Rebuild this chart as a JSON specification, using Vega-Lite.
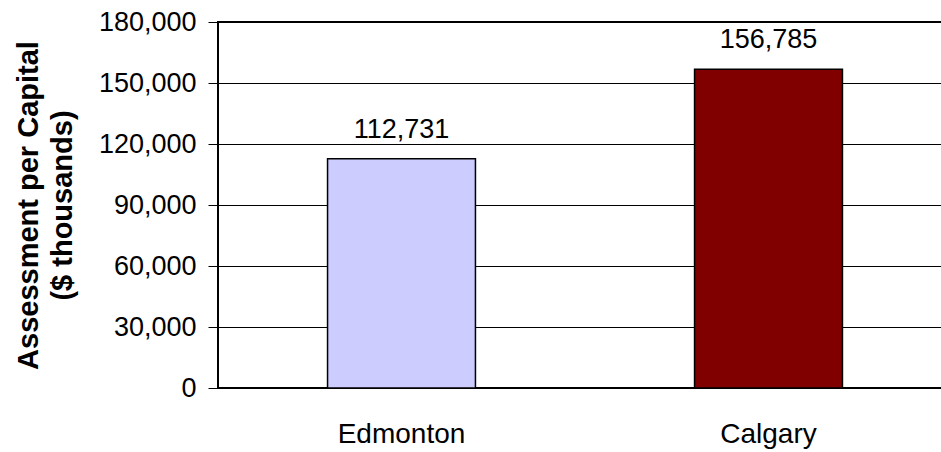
{
  "$schema": "https://vega.github.io/schema/vega-lite/v6.json",
  "autosize": {"type": "none"},
  "padding": {"left": 218, "top": 22, "right": 0, "bottom": 64},
  "width": 734,
  "height": 366,
  "background": "white",
  "config": {
    "font": "Liberation Sans",
    "view": {"stroke": "black", "strokeWidth": 2},
    "axis": {"labelFont": "Liberation Sans", "titleFont": "Liberation Sans", "labelColor": "black", "titleColor": "black"}
  },
  "data": {
    "values": [
      {"city": "Edmonton", "value": 112731},
      {"city": "Calgary", "value": 156785}
    ]
  },
  "encoding": {
    "x": {
      "field": "city",
      "type": "nominal",
      "sort": null,
      "scale": {"paddingInner": 0.597, "paddingOuter": 0.2985},
      "axis": {
        "title": null,
        "labelAngle": 0,
        "labelFontSize": 28,
        "ticks": false,
        "tickSize": 0,
        "domain": false,
        "labelBaseline": "alphabetic",
        "labelPadding": 54
      }
    },
    "y": {
      "field": "value",
      "type": "quantitative",
      "scale": {"domain": [0, 180000], "nice": false},
      "axis": {
        "values": [0, 30000, 60000, 90000, 120000, 150000, 180000],
        "format": ",.0f",
        "labelFontSize": 27,
        "labelPadding": 12,
        "tickSize": 10,
        "tickColor": "black",
        "tickWidth": 1,
        "domain": false,
        "grid": true,
        "gridColor": "black",
        "gridWidth": 1,
        "gridOpacity": 1,
        "title": ["Assessment per Capital", "($ thousands)"],
        "titleFontSize": 29,
        "titleFontWeight": "bold",
        "titleLineHeight": 34,
        "titleAngle": -90,
        "titleAlign": "center",
        "titleBaseline": "bottom",
        "titleX": -175,
        "titleY": 183
      }
    }
  },
  "layer": [
    {
      "mark": {"type": "bar", "stroke": "black", "strokeWidth": 1.5},
      "encoding": {
        "color": {
          "field": "city",
          "type": "nominal",
          "scale": {"domain": ["Edmonton", "Calgary"], "range": ["#CCCCFF", "#800000"]},
          "legend": null
        }
      }
    },
    {
      "mark": {"type": "text", "fontSize": 27, "dy": -21, "baseline": "alphabetic", "color": "black", "font": "Liberation Sans"},
      "encoding": {
        "text": {"field": "value", "type": "quantitative", "format": ",.0f"}
      }
    }
  ]
}
